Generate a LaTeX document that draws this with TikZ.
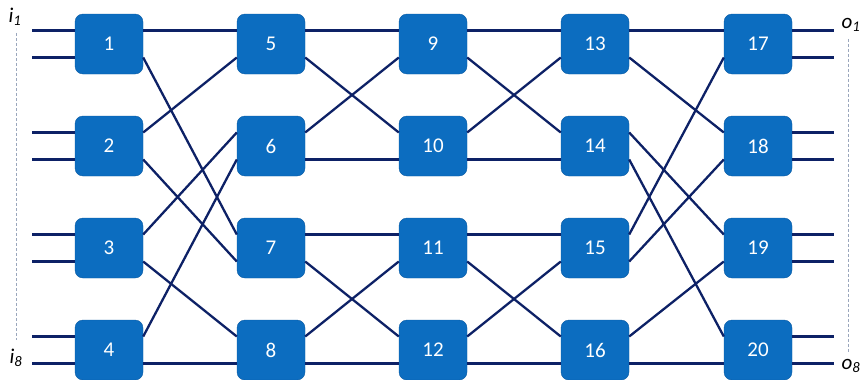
\documentclass[tikz,border=0pt]{standalone}
\usepackage{fontspec}
\setmainfont{Carlito}
\usepackage{tikz}
\usetikzlibrary{arrows.meta,positioning,calc}
\definecolor{swblue}{HTML}{0C6DC0}
\definecolor{swedge}{HTML}{0A5BA3}
\definecolor{wirenavy}{HTML}{0D2166}
\definecolor{guidegray}{HTML}{9AA6BC}
\tikzset{
  switchbox/.style={
    rectangle, rounded corners=8pt, draw=swedge, fill=swblue, thin,
    minimum width=68pt, minimum height=60pt,
    text=white, font=\fontsize{21}{24}\selectfont, inner sep=0pt
  },
  wire/.style={draw=wirenavy, line width=2.3pt},
  guide/.style={draw=guidegray, densely dashed, line width=0.8pt},
  portlabel/.style={font=\fontsize{21}{24}\selectfont\itshape, inner sep=0pt}
}

\begin{document}
\begin{tikzpicture}[x=1pt, y=-1pt]
  \useasboundingbox (0,0) rectangle (862,380);

  % switches, column by column
  \foreach \col/\x in {0/109, 1/271, 2/433, 3/595, 4/758} {
    \foreach \row/\y in {1/44, 2/146, 3/248, 4/350} {
      \pgfmathtruncatemacro{\k}{4*\col+\row}
      \node[switchbox] (n\k) at (\x,\y) {\k};
    }
  }

  % inputs and outputs
  \foreach \k in {1,...,4} {
    \draw[wire] ([yshift=13.5pt]n\k.west) -- ++(-43,0);
    \draw[wire] ([yshift=-13.5pt]n\k.west) -- ++(-43,0);
  }
  \foreach \k in {17,...,20} {
    \draw[wire] ([yshift=13.5pt]n\k.east) -- ++(42,0);
    \draw[wire] ([yshift=-13.5pt]n\k.east) -- ++(42,0);
  }

  % links between stages (upper port = 13.5, lower port = -13.5)
  \foreach \a/\pa/\b/\pb in {
      1/13.5/5/13.5, 1/-13.5/7/13.5, 2/13.5/5/-13.5, 2/-13.5/7/-13.5,
      3/13.5/6/13.5, 3/-13.5/8/13.5, 4/13.5/6/-13.5, 4/-13.5/8/-13.5,
      5/13.5/9/13.5, 5/-13.5/10/13.5, 6/13.5/9/-13.5, 6/-13.5/10/-13.5,
      7/13.5/11/13.5, 7/-13.5/12/13.5, 8/13.5/11/-13.5, 8/-13.5/12/-13.5,
      9/13.5/13/13.5, 9/-13.5/14/13.5, 10/13.5/13/-13.5, 10/-13.5/14/-13.5,
      11/13.5/15/13.5, 11/-13.5/16/13.5, 12/13.5/15/-13.5, 12/-13.5/16/-13.5,
      13/13.5/17/13.5, 13/-13.5/18/13.5, 14/13.5/19/13.5, 14/-13.5/20/13.5,
      15/13.5/17/-13.5, 15/-13.5/18/-13.5, 16/13.5/19/-13.5, 16/-13.5/20/-13.5} {
    \draw[wire] ([yshift=\pa pt]n\a.east) -- ([yshift=\pb pt]n\b.west);
  }

  % port labels
  \node[portlabel] (i1) at (15,17) {i\textsubscript{1}};
  \node[portlabel] (i8) at (16,358) {i\textsubscript{8}};
  \node[portlabel] (o1) at (851,25) {o\textsubscript{1}};
  \node[portlabel] (o8) at (851,366) {o\textsubscript{8}};
  \draw[guide] ([xshift=1pt,yshift=-7pt]i1.south) -- ([xshift=0pt,yshift=9pt]i8.north);
  \draw[guide] ([xshift=-3pt,yshift=-7pt]o1.south) -- ([xshift=-3pt,yshift=7pt]o8.north);
\end{tikzpicture}
\end{document}
